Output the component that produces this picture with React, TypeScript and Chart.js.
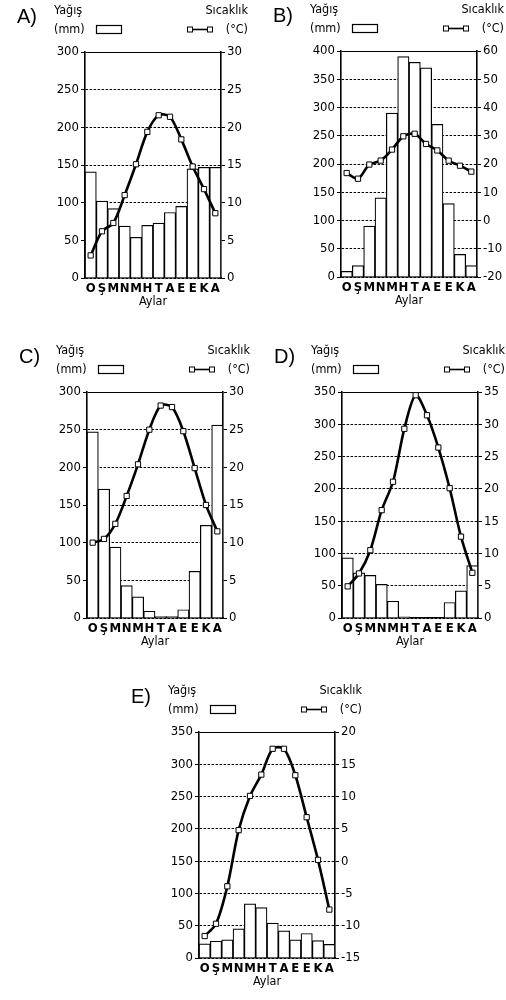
import { useEffect, useRef } from "react"
import { Chart, registerables, type ChartConfiguration, type Plugin } from "chart.js"

Chart.register(...registerables)

const FONT = "'Liberation Sans Narrow', 'DejaVu Sans Condensed', 'Arial Narrow', 'Liberation Sans', sans-serif"
const INK = "#000"

const months = ["O", "Ş", "M", "N", "M", "H", "T", "A", "E", "E", "K", "A"]

// A
const rainA = [141, 102, 92, 69, 54, 70, 73, 87, 95, 145, 147, 147]
const tempA = [3, 6.2, 7.3, 11, 15.1, 19.4, 21.6, 21.4, 18.4, 14.8, 11.8, 8.6]
// B
const rainB = [10, 20, 90, 140, 290, 390, 380, 370, 270, 130, 40, 20]
const tempB = [16.8, 14.8, 19.8, 21.2, 25.1, 29.8, 30.7, 27.1, 24.8, 21.2, 19.4, 17.3]
// C
const rainC = [247, 171, 94, 43, 28, 9, 2, 2, 11, 62, 123, 256]
const tempC = [10, 10.5, 12.5, 16.2, 20.4, 25, 28.2, 28, 24.8, 19.9, 15, 11.5]
// D
const rainD = [93, 70, 66, 52, 26, 2, 0, 0, 0, 24, 42, 81]
const tempD = [4.9, 6.9, 10.5, 16.7, 21.1, 29.3, 34.5, 31.4, 26.4, 20.1, 12.6, 7]
// E
const rainE = [22, 26, 28, 45, 84, 78, 54, 42, 28, 38, 27, 21]
const tempE = [-11.6, -9.7, -3.9, 4.8, 10.1, 13.4, 17.4, 17.4, 13.3, 6.8, 0.2, -7.5]

type PanelProps = {
  letter: string
  rain: number[]
  temp: number[]
  rainMax: number
  tempMin: number
  tempMax: number
  tempStep: number
  left: number
  top: number
}

function ClimatePanel({ letter, rain, temp, rainMax, tempMin, tempMax, tempStep, left, top }: PanelProps) {
  const chartRef = useRef<HTMLCanvasElement>(null)
  const chartInstance = useRef<Chart | null>(null)

  useEffect(() => {
    if (!chartRef.current) return
    const ctx = chartRef.current.getContext("2d")
    if (!ctx) return

    if (chartInstance.current) {
      chartInstance.current.destroy()
    }

    // legend texts above the plot
    const header: Plugin = {
      id: "header",
      afterDraw(chart) {
        const c = chart.ctx
        const { left: L, top: T, right: R } = chart.chartArea
        c.save()
        c.fillStyle = INK
        c.strokeStyle = INK
        c.textAlign = "left"
        c.textBaseline = "alphabetic"
        c.font = `20px 'Liberation Sans', sans-serif`
        c.fillText(letter + ")", L - 68, T - 29)
        c.font = `12.5px ${FONT}`
        c.fillText("Yağış", L - 31, T - 38)
        c.fillText("(mm)", L - 31, T - 19)
        c.lineWidth = 1.2
        c.strokeRect(L + 11.5, T - 26.5, 25, 8)
        c.textAlign = "right"
        c.fillText("Sıcaklık", R + 27, T - 38)
        c.fillText("(°C)", R + 27, T - 19)
        c.lineWidth = 1.6
        c.beginPath()
        c.moveTo(R - 31, T - 22.5)
        c.lineTo(R - 11, T - 22.5)
        c.stroke()
        c.lineWidth = 1
        c.fillStyle = "#fff"
        for (const x of [R - 31, R - 11]) {
          c.fillRect(x - 2.5, T - 25, 5, 5)
          c.strokeRect(x - 2.5, T - 25, 5, 5)
        }
        c.restore()
      },
    }

    const tickFont = { family: FONT, size: 13 }
    // top line plain, inner lines dotted
    const gridDash = (c: any) => (c.index === c.scale.ticks.length - 1 ? [] : [2.5, 1.5])

    const config: ChartConfiguration = {
      type: "bar",
      data: {
        labels: months,
        datasets: [
          {
            type: "line",
            label: "Sıcaklık",
            data: temp,
            yAxisID: "y1",
            order: 0,
            borderColor: INK,
            borderWidth: 2.6,
            tension: 0.3,
            pointStyle: "rect",
            pointRadius: 3.7,
            pointBorderWidth: 1,
            pointBorderColor: INK,
            pointBackgroundColor: "#fff",
          },
          {
            type: "bar",
            label: "Yağış",
            data: rain,
            yAxisID: "y",
            order: 1,
            backgroundColor: "#fff",
            borderColor: INK,
            borderWidth: 1.2,
            barPercentage: 1,
            categoryPercentage: 1,
          },
        ],
      },
      options: {
        responsive: false,
        animation: false,
        layout: { padding: { left: 53, top: 52, right: 0, bottom: 0 } },
        plugins: {
          legend: { display: false },
          tooltip: { enabled: false },
        },
        scales: {
          x: {
            grid: { display: false, drawTicks: false },
            border: { display: true, color: INK, width: 1.6 },
            ticks: {
              color: INK,
              font: { family: FONT, size: 13, weight: "bold" },
              padding: 3,
              autoSkip: false,
              maxRotation: 0,
            },
            title: {
              display: true,
              text: "Aylar",
              color: INK,
              font: { family: FONT, size: 12.5 },
              padding: { top: 0, bottom: 5 },
            },
            afterFit: (s) => {
              s.height = 36
            },
          },
          y: {
            position: "left",
            min: 0,
            max: rainMax,
            ticks: { stepSize: 50, color: INK, font: tickFont, padding: 2 },
            grid: { color: INK, lineWidth: 1, tickLength: 4 },
            border: { color: INK, width: 1.6, dash: gridDash },
            afterFit: (s) => {
              s.width = 32
            },
          },
          y1: {
            position: "right",
            min: tempMin,
            max: tempMax,
            ticks: { stepSize: tempStep, color: INK, font: tickFont, padding: 2 },
            grid: { drawOnChartArea: false, color: INK, lineWidth: 1, tickLength: 4 },
            border: { color: INK, width: 1.6, dash: [2.5, 1.5] },
            afterFit: (s) => {
              s.width = 29
            },
          },
        },
      },
      plugins: [header],
    }

    chartInstance.current = new Chart(ctx, config)

    return () => {
      if (chartInstance.current) {
        chartInstance.current.destroy()
        chartInstance.current = null
      }
    }
  }, [letter, rain, temp, rainMax, tempMin, tempMax, tempStep])

  return (
    <canvas
      ref={chartRef}
      width={250}
      height={314}
      style={{ position: "absolute", left, top, width: 250, height: 314 }}
    />
  )
}

export default function App() {
  return (
    <div
      style={{
        position: "absolute",
        left: 0,
        top: 0,
        width: 506,
        height: 1000,
        overflow: "hidden",
        background: "#fff",
      }}
    >
      <ClimatePanel letter="A" rain={rainA} temp={tempA} rainMax={300} tempMin={0} tempMax={30} tempStep={5} left={0} top={0} />
      <ClimatePanel letter="B" rain={rainB} temp={tempB} rainMax={400} tempMin={-20} tempMax={60} tempStep={10} left={256} top={-1} />
      <ClimatePanel letter="C" rain={rainC} temp={tempC} rainMax={300} tempMin={0} tempMax={30} tempStep={5} left={2} top={340} />
      <ClimatePanel letter="D" rain={rainD} temp={tempD} rainMax={350} tempMin={0} tempMax={35} tempStep={5} left={257} top={340} />
      <ClimatePanel letter="E" rain={rainE} temp={tempE} rainMax={350} tempMin={-15} tempMax={20} tempStep={5} left={114} top={680} />
    </div>
  )
}
